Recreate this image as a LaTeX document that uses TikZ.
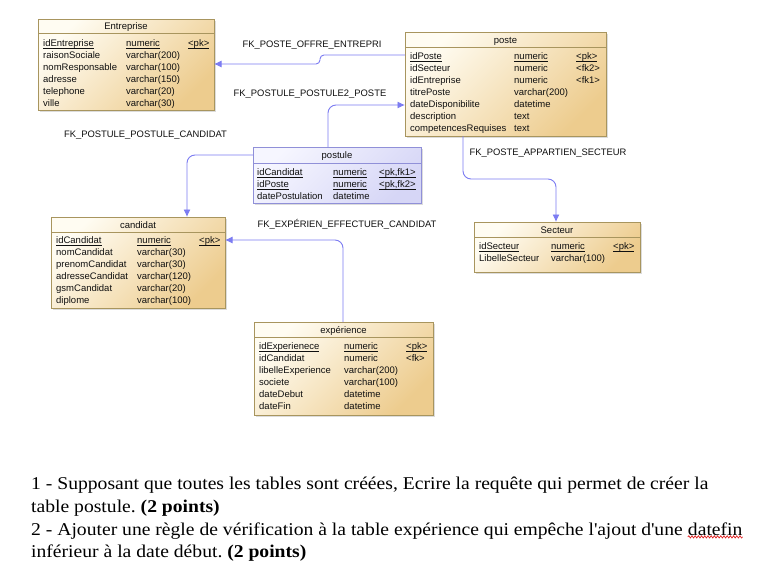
\documentclass[tikz,border=0pt]{standalone}
\usepackage{fontspec}
\setmainfont{Liberation Serif}
\newfontfamily\diagfont{Liberation Sans}
\newfontfamily\qfont[FakeStretch=1.09]{Liberation Serif}
\usetikzlibrary{arrows.meta,shadows,decorations.pathmorphing}
\definecolor{tblborder}{HTML}{A8955E}
\definecolor{tbltop}{HTML}{FFFCF2}
\definecolor{tblbot}{HTML}{EDCC8E}
\definecolor{ptborder}{HTML}{9090D8}
\definecolor{pttop}{HTML}{F6F6FF}
\definecolor{ptbot}{HTML}{D6D6F6}
\definecolor{fkblue}{HTML}{7C7CF2}
\definecolor{txt}{HTML}{101010}
\definecolor{spellred}{HTML}{E02020}
\newcommand\ulx[1]{\setbox0\hbox{#1}\rlap{\rule[-1.6pt]{\wd0}{0.6pt}}\box0}
\frenchspacing
\begin{document}
\begin{tikzpicture}[x=1pt,y=-1pt,
  tbl/.style={draw=tblborder, line width=0.8pt, top color=tbltop, bottom color=tblbot, shading angle=45,
    anchor=north west, inner sep=0pt, outer sep=0pt,
    drop shadow={shadow xshift=1.5pt,shadow yshift=-1.5pt,fill=black!30,opacity=0.45}},
  ptbl/.style={tbl, draw=ptborder, top color=pttop, bottom color=ptbot, shading angle=45},
  divline/.style={draw=tblborder, line width=0.8pt},
  pdivline/.style={draw=ptborder, line width=0.8pt},
  cell/.style={font=\diagfont\fontsize{9.5}{11}\selectfont, anchor=base west, inner sep=0pt, text=txt},
  ttl/.style={font=\diagfont\fontsize{9.5}{11}\selectfont, anchor=base, inner sep=0pt, text=txt},
  lbl/.style={font=\diagfont\fontsize{9.4}{11}\selectfont, inner sep=0pt, text=txt},
  fk/.style={draw=fkblue, line width=0.9pt, -{Latex[length=7.5pt,width=7pt]}},
  qtext/.style={font=\qfont\fontsize{18}{20}\selectfont, anchor=base west, inner sep=0pt, text=black}
]
\fill[white] (0,0) rectangle (763,570);
\useasboundingbox (0,0) rectangle (763,570);

% ---------- Entreprise ----------
\node[tbl, minimum width=176pt, minimum height=91pt] (entreprise) at (38,19) {};
\draw[divline] (38,33.5) -- (214,33.5);
\node[ttl] (ent-t) at (126,29.5) {Entreprise};
\foreach \n/\t/\k [count=\i] in {{\ulx{idEntreprise}}/{\ulx{numeric}}/{\ulx{<pk>}},
  raisonSociale/varchar(200)/{}, nomResponsable/varchar(100)/{}, adresse/varchar(150)/{},
  telephone/varchar(20)/{}, ville/varchar(30)/{}}{
  \node[cell] (ent-n\i) at (43,{34.5+12*\i}) {\n};
  \node[cell] (ent-y\i) at (126,{34.5+12*\i}) {\t};
  \node[cell] (ent-k\i) at (188,{34.5+12*\i}) {\k};
}

% ---------- poste ----------
\node[tbl, minimum width=201pt, minimum height=104pt] (poste) at (405,32) {};
\draw[divline] (405,47.5) -- (606,47.5);
\node[ttl] (pos-t) at (505.5,43.5) {poste};
\foreach \n/\t/\k [count=\i] in {{\ulx{idPoste}}/{\ulx{numeric}}/{\ulx{<pk>}},
  idSecteur/numeric/<fk2>, idEntreprise/numeric/<fk1>, titrePoste/varchar(200)/{},
  dateDisponibilite/datetime/{}, description/text/{}, competencesRequises/text/{}}{
  \node[cell] (pos-n\i) at (410,{47.5+12*\i}) {\n};
  \node[cell] (pos-y\i) at (514,{47.5+12*\i}) {\t};
  \node[cell] (pos-k\i) at (576,{47.5+12*\i}) {\k};
}

% ---------- postule ----------
\node[ptbl, minimum width=168pt, minimum height=56pt] (postule) at (253,147) {};
\draw[pdivline] (253,163) -- (421,163);
\node[ttl] (pst-t) at (337,158.5) {postule};
\foreach \n/\t/\k [count=\i] in {{\ulx{idCandidat}}/{\ulx{numeric}}/{\ulx{<pk,fk1>}},
  {\ulx{idPoste}}/{\ulx{numeric}}/{\ulx{<pk,fk2>}}, datePostulation/datetime/{}}{
  \node[cell] (pst-n\i) at (257,{163.5+12*\i}) {\n};
  \node[cell] (pst-y\i) at (333,{163.5+12*\i}) {\t};
  \node[cell] (pst-k\i) at (379,{163.5+12*\i}) {\k};
}

% ---------- candidat ----------
\node[tbl, minimum width=174pt, minimum height=91pt] (candidat) at (51,217) {};
\draw[divline] (51,232) -- (225,232);
\node[ttl] (can-t) at (138,228.5) {candidat};
\foreach \n/\t/\k [count=\i] in {{\ulx{idCandidat}}/{\ulx{numeric}}/{\ulx{<pk>}},
  nomCandidat/varchar(30)/{}, prenomCandidat/varchar(30)/{}, adresseCandidat/varchar(120)/{},
  gsmCandidat/varchar(20)/{}, diplome/varchar(100)/{}}{
  \node[cell] (can-n\i) at (56,{231.5+12*\i}) {\n};
  \node[cell] (can-y\i) at (137,{231.5+12*\i}) {\t};
  \node[cell] (can-k\i) at (199,{231.5+12*\i}) {\k};
}

% ---------- Secteur ----------
\node[tbl, minimum width=166pt, minimum height=50pt] (secteur) at (474,222) {};
\draw[divline] (474,237.5) -- (640,237.5);
\node[ttl] (sec-t) at (557,233.5) {Secteur};
\foreach \n/\t/\k [count=\i] in {{\ulx{idSecteur}}/{\ulx{numeric}}/{\ulx{<pk>}},
  LibelleSecteur/varchar(100)/{}}{
  \node[cell] (sec-n\i) at (479,{237.5+12*\i}) {\n};
  \node[cell] (sec-y\i) at (551,{237.5+12*\i}) {\t};
  \node[cell] (sec-k\i) at (613,{237.5+12*\i}) {\k};
}

% ---------- experience ----------
\node[tbl, minimum width=179pt, minimum height=93pt] (experience) at (254,322) {};
\draw[divline] (254,337.5) -- (433,337.5);
\node[ttl] (exp-t) at (343.5,333.5) {expérience};
\foreach \n/\t/\k [count=\i] in {{\ulx{idExperienece}}/{\ulx{numeric}}/{\ulx{<pk>}},
  idCandidat/numeric/<fk>, libelleExperience/varchar(200)/{}, societe/varchar(100)/{},
  dateDebut/datetime/{}, dateFin/datetime/{}}{
  \node[cell] (exp-n\i) at (259,{337.5+12*\i}) {\n};
  \node[cell] (exp-y\i) at (344,{337.5+12*\i}) {\t};
  \node[cell] (exp-k\i) at (406,{337.5+12*\i}) {\k};
}

% ---------- connectors ----------
\coordinate (k1a) at (320,55);
\coordinate (k1b) at (320,64);
\coordinate (k2) at (328,105);
\coordinate (k3) at (187,155);
\coordinate (k4) at (343,240);
\coordinate (k5a) at (463,179);
\coordinate (k5b) at (556,179);

\draw[fk, rounded corners=4pt] (poste.west |- k1a) -- (k1a) -- (k1b) -- (entreprise.east |- k1b);
\draw[fk, rounded corners=8pt] (postule.north -| k2) -- (k2) -- (poste.west |- k2);
\draw[fk, rounded corners=8pt] (postule.west |- k3) -- (k3) -- (candidat.north -| k3);
\draw[fk, rounded corners=8pt] (experience.north -| k4) -- (k4) -- (candidat.east |- k4);
\draw[fk, rounded corners=8pt] (poste.south -| k5a) -- (k5a) -- (k5b) -- (secteur.north -| k5b);

% ---------- connector labels ----------
\node[lbl] (l1) at (312,45) {FK\_POSTE\_OFFRE\_ENTREPRI};
\node[lbl] (l2) at (310,94) {FK\_POSTULE\_POSTULE2\_POSTE};
\node[lbl] (l3) at (145.5,135) {FK\_POSTULE\_POSTULE\_CANDIDAT};
\node[lbl] (l4) at (347,224) {FK\_EXPÉRIEN\_EFFECTUER\_CANDIDAT};
\node[lbl] (l5) at (548,153) {FK\_POSTE\_APPARTIEN\_SECTEUR};

% ---------- question text ----------
\node[qtext] (q1) at (31,489) {1 - Supposant que toutes les tables sont créées, Ecrire la requête qui permet de créer la};
\node[qtext] (q2) at (31,512) {table postule. \textbf{(2 points)}};
\node[qtext] (q3) at (31,535) {2 - Ajouter une règle de vérification à la table expérience qui empêche l\textquotesingle ajout d\textquotesingle une};
\node[qtext, xshift=4.9pt] (q3b) at (q3.base east) {datefin};
\node[qtext] (q4) at (31,557) {inférieur à la date début. \textbf{(2 points)}};
\draw[spellred, line width=0.7pt, decorate, decoration={snake, amplitude=1.1pt, segment length=3.2pt}]
  ([yshift=-1.5pt]q3b.south west) -- ([yshift=-1.5pt]q3b.south east);
\end{tikzpicture}
\end{document}
